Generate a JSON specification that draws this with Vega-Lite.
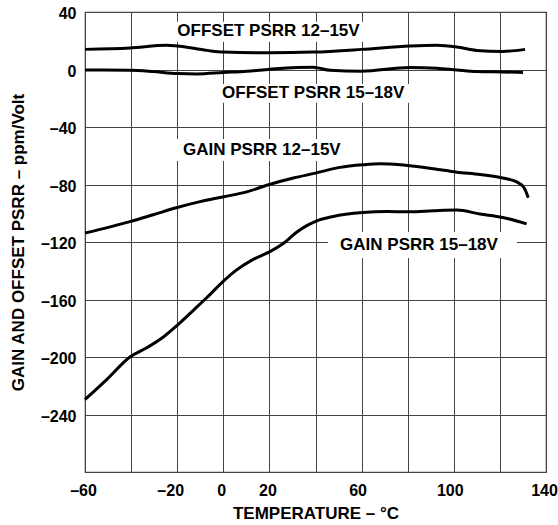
{
  "$schema": "https://vega.github.io/schema/vega-lite/v6.json",
  "width": 461,
  "height": 460,
  "autosize": {"type": "none"},
  "padding": {"left": 85, "top": 12, "right": 12, "bottom": 53},
  "background": "white",
  "config": {
    "view": {"stroke": "#444", "strokeWidth": 1.2},
    "font": "Liberation Sans",
    "axis": {
      "domain": false,
      "ticks": false,
      "grid": true,
      "gridColor": "#444",
      "gridOpacity": 1,
      "gridWidth": 1,
      "labelFlush": false,
      "labelFont": "Liberation Sans",
      "labelFontWeight": "bold",
      "labelFontSize": 16,
      "labelColor": "black",
      "titleFont": "Liberation Sans",
      "titleFontWeight": "bold",
      "titleFontSize": 17,
      "titleColor": "black"
    }
  },
  "datasets": {
    "curves": [
      {"series": "OFFSET PSRR 12–15V", "t": -60, "v": 14.0},
      {"series": "OFFSET PSRR 12–15V", "t": -40.5, "v": 15.0},
      {"series": "OFFSET PSRR 12–15V", "t": -24.4, "v": 16.9},
      {"series": "OFFSET PSRR 12–15V", "t": -20.1, "v": 16.4},
      {"series": "OFFSET PSRR 12–15V", "t": -7.1, "v": 13.3},
      {"series": "OFFSET PSRR 12–15V", "t": 0, "v": 12.1},
      {"series": "OFFSET PSRR 12–15V", "t": 20.3, "v": 11.6},
      {"series": "OFFSET PSRR 12–15V", "t": 38.9, "v": 12.1},
      {"series": "OFFSET PSRR 12–15V", "t": 60, "v": 14.0},
      {"series": "OFFSET PSRR 12–15V", "t": 81, "v": 16.4},
      {"series": "OFFSET PSRR 12–15V", "t": 92.6, "v": 16.9},
      {"series": "OFFSET PSRR 12–15V", "t": 101.3, "v": 15.7},
      {"series": "OFFSET PSRR 12–15V", "t": 109.9, "v": 13.3},
      {"series": "OFFSET PSRR 12–15V", "t": 121.3, "v": 12.6},
      {"series": "OFFSET PSRR 12–15V", "t": 130.9, "v": 14.0},

      {"series": "OFFSET PSRR 15–18V", "t": -60, "v": -0.3},
      {"series": "OFFSET PSRR 15–18V", "t": -40.5, "v": -0.5},
      {"series": "OFFSET PSRR 15–18V", "t": -30.5, "v": -1.4},
      {"series": "OFFSET PSRR 15–18V", "t": -20.1, "v": -2.8},
      {"series": "OFFSET PSRR 15–18V", "t": -11.4, "v": -3.1},
      {"series": "OFFSET PSRR 15–18V", "t": 0, "v": -2.1},
      {"series": "OFFSET PSRR 15–18V", "t": 10.3, "v": -1.2},
      {"series": "OFFSET PSRR 15–18V", "t": 20.3, "v": 0.2},
      {"series": "OFFSET PSRR 15–18V", "t": 32, "v": 1.4},
      {"series": "OFFSET PSRR 15–18V", "t": 38.9, "v": 1.6},
      {"series": "OFFSET PSRR 15–18V", "t": 46.3, "v": -0.6},
      {"series": "OFFSET PSRR 15–18V", "t": 60, "v": -1.2},
      {"series": "OFFSET PSRR 15–18V", "t": 81, "v": 1.4},
      {"series": "OFFSET PSRR 15–18V", "t": 92.6, "v": 0.9},
      {"series": "OFFSET PSRR 15–18V", "t": 101.3, "v": -0.3},
      {"series": "OFFSET PSRR 15–18V", "t": 109.9, "v": -1.4},
      {"series": "OFFSET PSRR 15–18V", "t": 121.3, "v": -1.7},
      {"series": "OFFSET PSRR 15–18V", "t": 130, "v": -2.1},

      {"series": "GAIN PSRR 12–15V", "t": -60, "v": -113.8},
      {"series": "GAIN PSRR 12–15V", "t": -40.5, "v": -105.8},
      {"series": "GAIN PSRR 12–15V", "t": -30.4, "v": -101.0},
      {"series": "GAIN PSRR 12–15V", "t": -20, "v": -96.0},
      {"series": "GAIN PSRR 12–15V", "t": -10.1, "v": -91.9},
      {"series": "GAIN PSRR 12–15V", "t": 0.3, "v": -88.5},
      {"series": "GAIN PSRR 12–15V", "t": 10.2, "v": -85.1},
      {"series": "GAIN PSRR 12–15V", "t": 20, "v": -80.0},
      {"series": "GAIN PSRR 12–15V", "t": 30.4, "v": -75.5},
      {"series": "GAIN PSRR 12–15V", "t": 40, "v": -72.1},
      {"series": "GAIN PSRR 12–15V", "t": 50.6, "v": -68.1},
      {"series": "GAIN PSRR 12–15V", "t": 60.5, "v": -66.3},
      {"series": "GAIN PSRR 12–15V", "t": 68, "v": -65.6},
      {"series": "GAIN PSRR 12–15V", "t": 76.7, "v": -66.3},
      {"series": "GAIN PSRR 12–15V", "t": 81, "v": -67.0},
      {"series": "GAIN PSRR 12–15V", "t": 91.1, "v": -69.0},
      {"series": "GAIN PSRR 12–15V", "t": 101.3, "v": -71.4},
      {"series": "GAIN PSRR 12–15V", "t": 111.4, "v": -73.1},
      {"series": "GAIN PSRR 12–15V", "t": 121.2, "v": -75.5},
      {"series": "GAIN PSRR 12–15V", "t": 127.3, "v": -78.2},
      {"series": "GAIN PSRR 12–15V", "t": 130.5, "v": -82.3},
      {"series": "GAIN PSRR 12–15V", "t": 132.3, "v": -89.2},

      {"series": "GAIN PSRR 15–18V", "t": -60, "v": -229.6},
      {"series": "GAIN PSRR 15–18V", "t": -50.6, "v": -215.7},
      {"series": "GAIN PSRR 15–18V", "t": -40.5, "v": -200.0},
      {"series": "GAIN PSRR 15–18V", "t": -33.2, "v": -193.6},
      {"series": "GAIN PSRR 15–18V", "t": -26.0, "v": -186.1},
      {"series": "GAIN PSRR 15–18V", "t": -20.0, "v": -178.0},
      {"series": "GAIN PSRR 15–18V", "t": -13.0, "v": -167.5},
      {"series": "GAIN PSRR 15–18V", "t": -7.2, "v": -158.8},
      {"series": "GAIN PSRR 15–18V", "t": 0.3, "v": -146.8},
      {"series": "GAIN PSRR 15–18V", "t": 5.8, "v": -139.4},
      {"series": "GAIN PSRR 15–18V", "t": 13.0, "v": -132.1},
      {"series": "GAIN PSRR 15–18V", "t": 20.0, "v": -126.9},
      {"series": "GAIN PSRR 15–18V", "t": 26.0, "v": -121.1},
      {"series": "GAIN PSRR 15–18V", "t": 31.8, "v": -113.2},
      {"series": "GAIN PSRR 15–18V", "t": 36.2, "v": -108.6},
      {"series": "GAIN PSRR 15–18V", "t": 40.1, "v": -105.6},
      {"series": "GAIN PSRR 15–18V", "t": 47.7, "v": -102.2},
      {"series": "GAIN PSRR 15–18V", "t": 60.5, "v": -99.5},
      {"series": "GAIN PSRR 15–18V", "t": 70.9, "v": -98.8},
      {"series": "GAIN PSRR 15–18V", "t": 81.0, "v": -99.0},
      {"series": "GAIN PSRR 15–18V", "t": 91.1, "v": -98.3},
      {"series": "GAIN PSRR 15–18V", "t": 101.3, "v": -97.8},
      {"series": "GAIN PSRR 15–18V", "t": 111.4, "v": -100.5},
      {"series": "GAIN PSRR 15–18V", "t": 121.2, "v": -102.9},
      {"series": "GAIN PSRR 15–18V", "t": 131.6, "v": -107.4}
    ],
    "labels": [
      {"label": "OFFSET PSRR 12–15V", "t": 19.6, "v": 26.5, "t1": -23.1, "t2": 62.3, "v1": 33.2, "v2": 19.3},
      {"label": "OFFSET PSRR 15–18V", "t": 39.0, "v": -16.4, "t1": -4.0, "t2": 82.3, "v1": -10.0, "v2": -23.2},
      {"label": "GAIN PSRR 12–15V", "t": 16.7, "v": -56.0, "t1": -21.0, "t2": 53.7, "v1": -48.3, "v2": -63.6},
      {"label": "GAIN PSRR 15–18V", "t": 84.9, "v": -122.2, "t1": 45.4, "t2": 127.4, "v1": -113.1, "v2": -131.2}
    ]
  },
  "layer": [
    {
      "data": {"name": "labels"},
      "mark": {"type": "rect", "fill": "white", "strokeWidth": 0},
      "encoding": {
        "x": {
          "field": "t1", "type": "quantitative",
          "scale": {"domain": [-60, 140], "nice": false, "zero": false},
          "axis": {
            "title": "TEMPERATURE – °C",
            "values": [-60, -40, -20, 0, 20, 40, 60, 80, 100, 120, 140],
            "labelExpr": "indexof([-40, 40, 80, 120], datum.value) >= 0 ? '' : (datum.value < 0 ? '–' + abs(datum.value) : '' + datum.value)",
            "labelOffset": {"condition": [{"test": "datum.value == -20", "value": -7}, {"test": "datum.value == 60 || datum.value == 100", "value": -4}], "value": -2},
            "labelPadding": 10,
            "titlePadding": 7
          }
        },
        "x2": {"field": "t2"},
        "y": {
          "field": "v1", "type": "quantitative",
          "scale": {"domain": [-280, 40], "nice": false, "zero": false},
          "axis": {
            "title": "GAIN AND OFFSET PSRR – ppm/Volt",
            "values": [40, 0, -40, -80, -120, -160, -200, -240, -280],
            "labelExpr": "datum.value == -280 ? '' : (datum.value < 0 ? '–' + abs(datum.value) : '' + datum.value)",
            "labelOffset": 1.5,
            "labelPadding": 9,
            "titlePadding": 13
          }
        },
        "y2": {"field": "v2"}
      }
    },
    {
      "data": {"name": "curves"},
      "mark": {"type": "line", "color": "black", "strokeWidth": 3, "interpolate": "monotone"},
      "encoding": {
        "x": {"field": "t", "type": "quantitative", "title": "TEMPERATURE – °C"},
        "y": {"field": "v", "type": "quantitative", "title": "GAIN AND OFFSET PSRR – ppm/Volt"},
        "detail": {"field": "series"}
      }
    },
    {
      "data": {"name": "labels"},
      "mark": {"type": "text", "font": "Liberation Sans", "fontWeight": "bold", "fontSize": 17, "color": "black", "align": "center", "baseline": "middle"},
      "encoding": {
        "x": {"field": "t", "type": "quantitative", "title": "TEMPERATURE – °C"},
        "y": {"field": "v", "type": "quantitative", "title": "GAIN AND OFFSET PSRR – ppm/Volt"},
        "text": {"field": "label"}
      }
    }
  ]
}
